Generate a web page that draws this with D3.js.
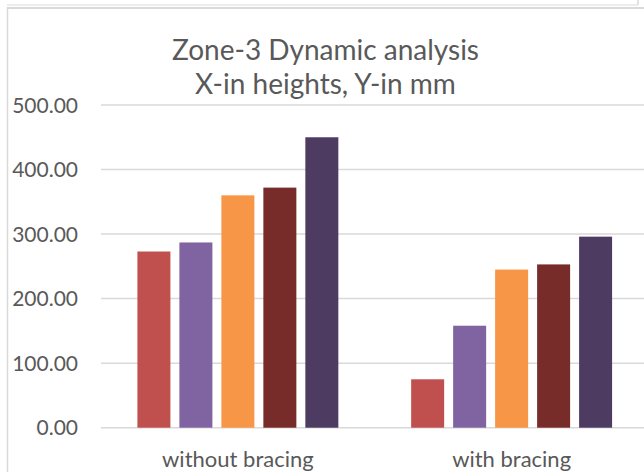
<!DOCTYPE html>
<html>
<head>
<meta charset="utf-8">
<script src="https://cdn.jsdelivr.net/npm/d3@7"></script>
<style>
  html, body { margin: 0; padding: 0; background: #ffffff; }
  svg { display: block; }
  text { font-family: Lato, "Open Sans", sans-serif; fill: #595959; }
</style>
</head>
<body>
<svg id="chart" width="644" height="472"></svg>
<script>
// Peak displacement (mm) per storey height, grouped by bracing case
const categories = ["without bracing", "with bracing"];
const seriesNames = ["Height 1", "Height 2", "Height 3", "Height 4", "Height 5"];
const valuesWithoutBracing = [273, 287, 360, 372, 450];
const valuesWithBracing = [75, 158, 245, 253, 296];
const yTicks = [0, 100, 200, 300, 400, 500];
const seriesColors = ["#c0504d", "#8064a2", "#f79646", "#772c2a", "#4d3b62"];
const titleLines = ["Zone-3 Dynamic analysis", "X-in heights, Y-in mm"];

const rows = categories.map((c, i) => ({
  category: c,
  values: [valuesWithoutBracing, valuesWithBracing][i]
}));

const svg = d3.select("#chart");
const W = 644, H = 472;
const gridColor = "#d9d9d9";

// Chart area frame (partially visible)
svg.append("line").attr("x1", 7).attr("x2", 638).attr("y1", 5).attr("y2", 5)
  .attr("stroke", gridColor).attr("stroke-width", 1);
svg.append("line").attr("x1", 638).attr("x2", 638).attr("y1", 0).attr("y2", 5)
  .attr("stroke", gridColor).attr("stroke-width", 1.5);
svg.append("line").attr("x1", 7).attr("x2", W).attr("y1", 8).attr("y2", 8)
  .attr("stroke", gridColor).attr("stroke-width", 2);
svg.append("line").attr("x1", 7.5).attr("x2", 7.5).attr("y1", 7).attr("y2", H)
  .attr("stroke", gridColor).attr("stroke-width", 1.5);

// Plot region
const plotLeft = 101, plotRight = 648.5;
const y = d3.scaleLinear().domain([0, 500]).range([427.7, 105]);
const x0 = d3.scaleBand().domain(categories).range([plotLeft, plotRight]).padding(0);
const groupPad = x0.bandwidth() * 0.133;
const x1 = d3.scaleBand().domain(seriesNames)
  .range([groupPad, x0.bandwidth() - groupPad])
  .paddingInner(0.214).paddingOuter(0);

// Gridlines
svg.append("g").selectAll("line").data(yTicks).join("line")
  .attr("x1", plotLeft).attr("x2", W)
  .attr("y1", d => y(d)).attr("y2", d => y(d))
  .attr("stroke", gridColor).attr("stroke-width", 1.5);

// Y tick labels
svg.append("g").selectAll("text").data(yTicks).join("text")
  .attr("x", 78).attr("y", d => y(d))
  .attr("dy", "0.36em")
  .attr("text-anchor", "end")
  .style("font-size", "21px")
  .text(d => d3.format(".2f")(d));

// Bars
const groups = svg.append("g").selectAll("g").data(rows).join("g")
  .attr("transform", d => `translate(${x0(d.category)},0)`);
groups.selectAll("rect")
  .data(d => d.values.map((v, i) => ({ name: seriesNames[i], value: v, i })))
  .join("rect")
  .attr("x", d => x1(d.name))
  .attr("width", x1.bandwidth())
  .attr("y", d => y(d.value))
  .attr("height", d => y(0) - y(d.value))
  .attr("fill", d => seriesColors[d.i]);

// Category labels
svg.append("g").selectAll("text").data(categories).join("text")
  .attr("x", d => x0(d) + x0.bandwidth() / 2)
  .attr("y", 466.5)
  .attr("text-anchor", "middle")
  .style("font-size", "22px")
  .text(d => d);

// Two-line title
svg.append("g").selectAll("text").data(titleLines).join("text")
  .attr("x", 325.5)
  .attr("y", (d, i) => 59.8 + i * 33.8)
  .attr("text-anchor", "middle")
  .style("font-size", "28px")
  .text(d => d);
</script>
</body>
</html>
